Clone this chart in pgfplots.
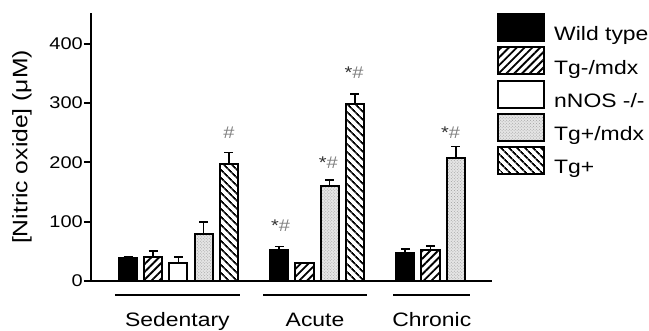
\documentclass[border=0pt]{standalone}
\usepackage{pgfplots}
\pgfplotsset{compat=1.18}
\usepackage{fontspec}
\setmainfont{Liberation Sans}[FakeStretch=1.18]
\usetikzlibrary{patterns,patterns.meta}
\pgfplotsset{
  mybar/.style={draw=black, line width=2bp, bar shift=0pt,
    legend image code/.code={\draw[##1, line width=2bp] (0bp,-6.5bp) rectangle (46bp,20.5bp);}},
}
\begin{document}
\begin{tikzpicture}
\begin{axis}[
  at={(0,0)}, anchor=south west,
  scale only axis, width=401bp, height=268bp,
  xmin=-0.468, xmax=15.44, ymin=0, ymax=452,
  axis x line=bottom, axis y line=left,
  axis line style={-, line width=2.2bp, black},
  xtick=\empty, ytick={0,100,200,300,400},
  tick align=outside, major tick length=7bp,
  tick style={line width=2bp, black},
  yticklabel style={font=\fontsize{17}{19}\selectfont, inner sep=1bp},
  /pgf/number format/assume math mode=true,
  ylabel={[Nitric oxide] (μM)},
  ylabel style={at={(axis description cs:-0.172,0.5)}, anchor=center, font=\fontsize{21}{23}\selectfont},
  clip=false,
  ybar, bar width=0.72,
  error bars/error bar style={line width=1.6bp, black, solid},
  error bars/error mark options={rotate=90, line width=1.6bp, mark size=4.5bp, black, solid},
  legend style={at={(axis description cs:1.0125,1)}, anchor=north west, draw=none, fill=none,
    inner sep=0pt, row sep=4bp, column sep=9bp, font=\fontsize{19.5}{21}\selectfont,
    nodes={inner sep=0pt}},
  legend cell align=left,
]
\addplot[mybar, fill=black, error bars/.cd, y dir=plus, y explicit]
  table[x=x, y=y, y error=e] {
x y e
1 39 2
7 53 5
12 47 7
};
\addlegendentry{Wild type}
\addplot[mybar, fill=white, pattern={Lines[angle=45,distance=5.5bp,line width=1.9bp]}, pattern color=black, error bars/.cd, y dir=plus, y explicit]
  table[x=x, y=y, y error=e] {
x y e
2 41 10
8 30 0
13 52 7
};
\addlegendentry{Tg-/mdx}
\addplot[mybar, fill=white, error bars/.cd, y dir=plus, y explicit]
  table[x=x, y=y, y error=e] {
x y e
3 31 9
};
\addlegendentry{nNOS -/-}
\addplot[mybar, fill=gray!20, postaction={pattern=crosshatch dots, pattern color=gray!75}, error bars/.cd, y dir=plus, y explicit]
  table[x=x, y=y, y error=e] {
x y e
4 80 20
9 160 10
14 207 20
};
\addlegendentry{Tg+/mdx}
\addplot[mybar, fill=white, pattern={Lines[angle=-45,distance=6bp,line width=2.1bp]}, pattern color=black, error bars/.cd, y dir=plus, y explicit]
  table[x=x, y=y, y error=e] {
x y e
5 198 19
10 299 16
};
\addlegendentry{Tg+}

% significance marks
\begin{scope}[every node/.style={font=\fontsize{17}{18}\selectfont, anchor=center, inner sep=0pt}]
\node at (axis cs:5,250) {\color{gray}\#};
\node at (axis cs:7.05,94) {\color{black!80}*\color{gray}\#};
\node at (axis cs:8.95,199) {\color{black!80}*\color{gray}\#};
\node at (axis cs:9.97,351) {\color{black!80}*\color{gray}\#};
\node at (axis cs:13.8,251) {\color{black!80}*\color{gray}\#};
\end{scope}

% group lines and labels
\draw[line width=2bp] ([yshift=-14bp]axis cs:0.48,0) -- ([yshift=-14bp]axis cs:5.44,0);
\draw[line width=2bp] ([yshift=-14bp]axis cs:6.36,0) -- ([yshift=-14bp]axis cs:10.48,0);
\draw[line width=2bp] ([yshift=-14bp]axis cs:11.52,0) -- ([yshift=-14bp]axis cs:14.57,0);
\begin{scope}[every node/.style={font=\fontsize{19.5}{21}\selectfont, anchor=base, inner sep=0pt}]
\node at ([yshift=-45bp]axis cs:2.96,0) {Sedentary};
\node at ([yshift=-45bp]axis cs:8.42,0) {Acute};
\node at ([yshift=-45bp]axis cs:13.05,0) {Chronic};
\end{scope}
\end{axis}
\pgfresetboundingbox
\useasboundingbox (-91bp,-50bp) rectangle (558bp,281bp);
\end{tikzpicture}
\end{document}
